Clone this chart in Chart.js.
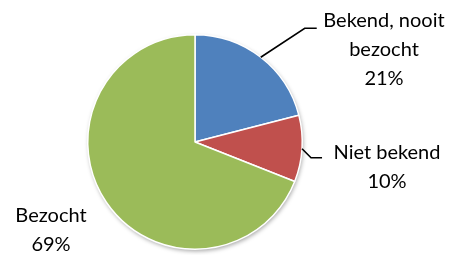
<!DOCTYPE html>
<html>
<head>
<meta charset="utf-8">
<script src="https://cdn.jsdelivr.net/npm/chart.js@4/dist/chart.umd.min.js"></script>
<style>
  html, body { margin: 0; padding: 0; background: #fff; }
  #wrap { width: 461px; height: 255px; }
</style>
</head>
<body>
<div id="wrap"><canvas id="c" width="461" height="255"></canvas></div>
<script>
const categories = ["Bekend, nooit bezocht", "Niet bekend", "Bezocht"];
const labelLines = [["Bekend, nooit", "bezocht"], ["Niet bekend"], ["Bezocht"]];
const shares = [21, 10, 69];
const colors = ["#4F81BD", "#C0504D", "#9BBB59"];

// label placement: leader elbow offset from arc edge, horizontal run, text center
const labelLayout = [
  { elbow: [44, -29], run: 12, text: [384, 21] },
  { elbow: [9, 9], run: 11, text: [387, 153] },
  { elbow: null, run: 0, text: [51, 216] }
];

const FONT = "20px Lato, 'Open Sans', sans-serif";
const LINE_H = 29;

const pieShadow = {
  id: "pieShadow",
  beforeDatasetsDraw(chart) {
    const arc = chart.getDatasetMeta(0).data[0];
    if (!arc) return;
    const ctx = chart.ctx;
    ctx.save();
    ctx.shadowColor = "rgba(0,0,0,0.35)";
    ctx.shadowBlur = 4;
    ctx.shadowOffsetX = 1;
    ctx.shadowOffsetY = 2;
    ctx.fillStyle = "#fff";
    ctx.beginPath();
    ctx.arc(arc.x, arc.y, arc.outerRadius, 0, Math.PI * 2);
    ctx.fill();
    ctx.restore();
  }
};

const pieLabels = {
  id: "pieLabels",
  afterDatasetsDraw(chart) {
    const ctx = chart.ctx;
    const meta = chart.getDatasetMeta(0);
    ctx.save();
    ctx.font = FONT;
    ctx.fillStyle = "#000";
    ctx.textAlign = "center";
    ctx.textBaseline = "middle";
    meta.data.forEach((arc, i) => {
      const lay = labelLayout[i];
      const mid = (arc.startAngle + arc.endAngle) / 2;
      if (lay.elbow) {
        const sx = arc.x + Math.cos(mid) * arc.outerRadius;
        const sy = arc.y + Math.sin(mid) * arc.outerRadius;
        const ex = sx + lay.elbow[0];
        const ey = sy + lay.elbow[1];
        ctx.strokeStyle = "#000";
        ctx.lineWidth = 1.6;
        ctx.beginPath();
        ctx.moveTo(sx, sy);
        ctx.lineTo(ex, ey);
        ctx.lineTo(ex + lay.run, ey);
        ctx.stroke();
      }
      const lines = labelLines[i].concat([shares[i] + "%"]);
      lines.forEach((t, k) => {
        ctx.fillText(t, lay.text[0], lay.text[1] + k * LINE_H);
      });
    });
    ctx.restore();
  }
};

new Chart(document.getElementById("c"), {
  type: "pie",
  data: {
    labels: categories,
    datasets: [{
      data: shares,
      backgroundColor: colors,
      borderColor: "#fff",
      borderWidth: 1.5
    }]
  },
  options: {
    responsive: false,
    animation: false,
    layout: { padding: { left: 87, right: 158, top: 34, bottom: 5 } },
    plugins: {
      legend: { display: false },
      tooltip: { enabled: false }
    }
  },
  plugins: [pieShadow, pieLabels]
});
</script>
</body>
</html>
